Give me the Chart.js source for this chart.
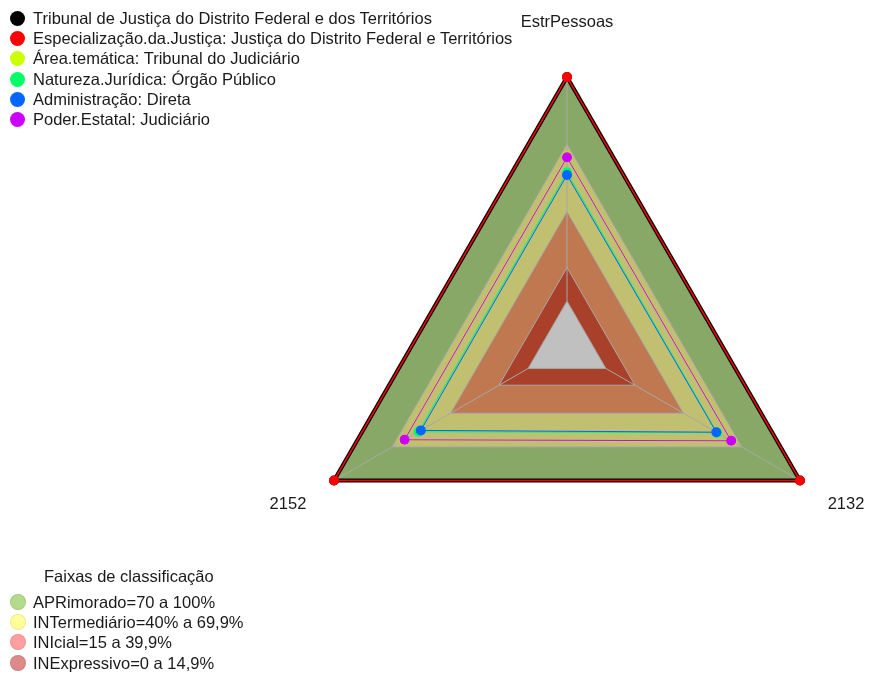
<!DOCTYPE html>
<html lang="pt">
<head>
<meta charset="UTF-8">
<title>Radar</title>
<script src="https://cdn.jsdelivr.net/npm/chart.js"></script>
<style>
  body { margin: 0; background: #fff; font-family: "Liberation Sans", Arial, sans-serif; color: #1a1a1a; }
  #wrap { position: relative; width: 869px; height: 675px; }
  #chart { position: absolute; left: 0; top: 0; }
  .legend { position: absolute; font-size: 16.5px; }
  .legend div { height: 20.2px; line-height: 20px; white-space: nowrap; }
  .legend span.dot { display: inline-block; width: 15px; height: 15px; border-radius: 50%; vertical-align: -2px; margin-right: 8px; }
  #seriesLegend { left: 10px; top: 8px; }
  #bandLegend { left: 10px; top: 566px; }
  #bandLegend .ttl { padding-left: 34px; height: 26px; }
  #bandLegend span.dot { width: 16px; height: 16px; margin-right: 7px; box-shadow: inset 0 0 0 1px rgba(0,0,0,0.08); }
</style>
</head>
<body>
<div id="wrap">
  <canvas id="chart" width="869" height="675"></canvas>
  <div class="legend" id="seriesLegend"></div>
  <div class="legend" id="bandLegend"></div>
</div>

<script>
// Axes (clockwise from the top)
const axes = ['EstrPessoas', '2132', '2152'];

// Series, in percent
const seriesNames = [
  'Tribunal de Justiça do Distrito Federal e dos Territórios',
  'Especialização.da.Justiça: Justiça do Distrito Federal e Territórios',
  'Área.temática: Tribunal do Judiciário',
  'Natureza.Jurídica: Órgão Público',
  'Administração: Direta',
  'Poder.Estatal: Judiciário'
];
const tribunal = [100, 100, 100];
const especializacao = [100, 100, 100];
const areaTematica = [64.5, 64.8, 64.0];
const naturezaJuridica = [57.5, 57.3, 56.5];
const administracao = [56.3, 56.9, 55.3];
const poderEstatal = [64.2, 64.6, 63.7];
const seriesColors = ['#000000', '#ff0000', '#ccff00', '#00ff66', '#0066ff', '#cc00ff'];

// Classification bands (upper limits)
const bandNames = ['APRimorado=70 a 100%', 'INTermediário=40% a 69,9%', 'INIcial=15 a 39,9%', 'INExpressivo=0 a 14,9%'];
const bandTop = [100, 70, 40, 15];
const bandFill = ['#88a868', '#c0c070', '#c07850', '#a8402a'];
const bandLegendColors = ['#b3db8c', '#ffff99', '#ff9f9f', '#de8a8a'];

const seriesData = [tribunal, especializacao, areaTematica, naturezaJuridica, administracao, poderEstatal];

const datasets = [];
// bands, widest first (drawn behind)
bandTop.forEach((v, i) => {
  datasets.push({
    label: bandNames[i],
    data: axes.map(() => v),
    fill: 'start',
    backgroundColor: bandFill[i],
    borderColor: '#a8a8a8',
    borderWidth: 1,
    pointRadius: 0,
    order: 20 - i
  });
});
// hole in the middle
const holeIndex = datasets.length;
datasets.push({
  label: 'centro',
  data: axes.map(() => 0),
  fill: 'start',
  backgroundColor: '#c0c0c0',
  borderColor: '#a8a8a8',
  borderWidth: 1,
  pointRadius: 0,
  order: 15
});
seriesData.forEach((d, i) => {
  datasets.push({
    label: seriesNames[i],
    data: d,
    fill: false,
    borderColor: seriesColors[i],
    backgroundColor: seriesColors[i],
    pointBackgroundColor: seriesColors[i],
    pointBorderColor: seriesColors[i],
    borderWidth: i === 0 ? 4 : (i === 1 ? 1.5 : 1),
    pointRadius: 5,
    pointBorderWidth: 0,
    order: 5 - i
  });
});

// spokes over the bands but under the series
const spokes = {
  id: 'spokes',
  afterDatasetDraw(chart, args) {
    if (args.index !== holeIndex) return;
    const r = chart.scales.r;
    const ctx = chart.ctx;
    ctx.save();
    ctx.strokeStyle = '#a8a8a8';
    ctx.lineWidth = 1;
    axes.forEach((a, i) => {
      const p0 = r.getPointPositionForValue(i, 0);
      const p1 = r.getPointPositionForValue(i, 100);
      ctx.beginPath();
      ctx.moveTo(p0.x, p0.y);
      ctx.lineTo(p1.x, p1.y);
      ctx.stroke();
    });
    ctx.restore();
  }
};

// axis names, placed through the radial scale
const axisNames = {
  id: 'axisNames',
  afterDraw(chart) {
    const r = chart.scales.r;
    const ctx = chart.ctx;
    ctx.save();
    ctx.font = '16.5px "Liberation Sans", Arial, sans-serif';
    ctx.fillStyle = '#1a1a1a';
    axes.forEach((name, i) => {
      const p = r.getPointPosition(i, r.drawingArea + (i === 0 ? 46 : 32));
      if (i === 0) { ctx.textAlign = 'center'; ctx.textBaseline = 'bottom'; }
      else { ctx.textAlign = i === 1 ? 'left' : 'right'; ctx.textBaseline = 'top'; }
      ctx.fillText(name, p.x, p.y);
    });
    ctx.restore();
  }
};

new Chart(document.getElementById('chart'), {
  type: 'radar',
  data: { labels: axes, datasets: datasets },
  options: {
    responsive: false,
    animation: false,
    layout: { padding: { top: 77, bottom: 59, left: 265, right: 0 } },
    elements: { line: { tension: 0 } },
    plugins: { legend: { display: false }, tooltip: { enabled: false } },
    scales: {
      r: {
        min: -20,
        max: 100,
        ticks: { display: false },
        grid: { display: false },
        angleLines: { display: false },
        pointLabels: { display: false }
      }
    }
  },
  plugins: [spokes, axisNames]
});

// legends
const sl = document.getElementById('seriesLegend');
seriesNames.forEach((n, i) => {
  const row = document.createElement('div');
  row.innerHTML = `<span class="dot" style="background:${seriesColors[i]}"></span>${n}`;
  sl.appendChild(row);
});
const bl = document.getElementById('bandLegend');
const ttl = document.createElement('div');
ttl.className = 'ttl';
ttl.textContent = 'Faixas de classificação';
bl.appendChild(ttl);
bandNames.forEach((n, i) => {
  const row = document.createElement('div');
  row.innerHTML = `<span class="dot" style="background:${bandLegendColors[i]}"></span>${n}`;
  bl.appendChild(row);
});
</script>
</body>
</html>
